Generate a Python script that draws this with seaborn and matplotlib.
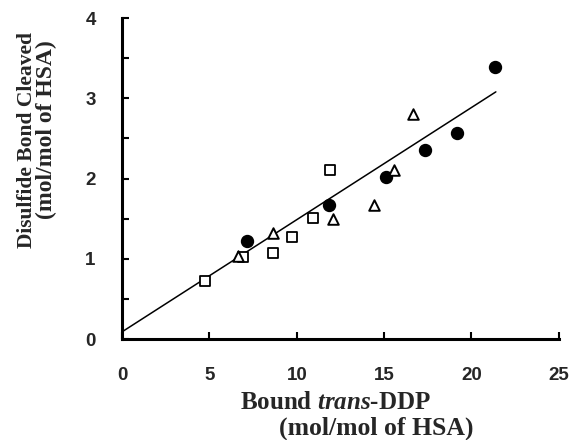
import matplotlib
matplotlib.use("Agg")
import matplotlib.pyplot as plt
import seaborn as sns
import pandas as pd
import numpy as np

# Data
circle_x = [7.14, 11.82, 15.11, 17.32, 19.18, 21.38]
circle_y = [1.22, 1.675, 2.02, 2.35, 2.57, 3.39]
square_x = [4.72, 6.95, 8.65, 9.72, 10.93, 11.92]
square_y = [0.72, 1.02, 1.07, 1.27, 1.51, 2.11]
triangle_x = [6.63, 8.63, 12.07, 14.40, 15.59, 16.64]
triangle_y = [1.04, 1.32, 1.50, 1.675, 2.11, 2.80]
fit_x = [0.0, 21.4]
fit_y = [0.09, 3.08]
x_ticks = [0, 5, 10, 15, 20, 25]
y_ticks = [0, 1, 2, 3, 4]
y_minor = [0.5, 1.5, 2.5, 3.5]

sns.set_theme(style="white")
plt.rcParams["mathtext.fontset"] = "custom"
plt.rcParams["mathtext.it"] = "Liberation Serif:italic:bold"
plt.rcParams["mathtext.rm"] = "Liberation Serif:bold"

df = pd.DataFrame({
    "x": circle_x + square_x + triangle_x,
    "y": circle_y + square_y + triangle_y,
    "series": ["circle"] * len(circle_x) + ["square"] * len(square_x) + ["triangle"] * len(triangle_x),
})

fig = plt.figure(figsize=(5.76, 4.4), dpi=100)
ax = fig.add_axes([0.212, 0.2295, 0.758, 0.7295])

sns.lineplot(x=fit_x, y=fit_y, ax=ax, color="black", linewidth=1.1)

styles = {
    "circle": dict(marker="o", facecolor="black", s=74, lw=1.0),
    "square": dict(marker="s", facecolor="white", s=56, lw=1.3),
    "triangle": dict(marker="^", facecolor="white", s=58, lw=1.4),
}
for name, st in styles.items():
    sub = df[df["series"] == name]
    sns.scatterplot(data=sub, x="x", y="y", ax=ax, marker=st["marker"],
                    facecolor=st["facecolor"], edgecolor="black", linewidth=st["lw"],
                    s=st["s"], zorder=3, legend=False)

ax.set_xlim(0, 25)
ax.set_ylim(0, 4)
ax.set_xticks(x_ticks)
ax.set_xticklabels([str(t) for t in x_ticks])
ax.set_yticks(y_ticks)
ax.set_yticklabels([str(t) for t in y_ticks])
ax.set_yticks(y_minor, minor=True)

for lab in ax.get_xticklabels() + ax.get_yticklabels():
    lab.set_family("Liberation Sans")
    lab.set_fontweight("bold")
    lab.set_fontsize(13.5)

ax.tick_params(axis="both", which="both", direction="in", length=5, width=1.5,
               color="black", bottom=True, left=True)
ax.tick_params(axis="x", pad=20)
ax.tick_params(axis="y", pad=19)

sns.despine(ax=ax)
for side in ["left", "bottom"]:
    ax.spines[side].set_linewidth(2.2)
    ax.spines[side].set_color("black")

ax.set_xlabel("")
ax.set_ylabel("")

fig.text(336 / 576, 1 - 402 / 440, "Bound $\\mathit{trans}$-DDP", ha="center", va="center",
         family="Liberation Serif", fontweight="bold", fontsize=18)
fig.text(376 / 576, 1 - 428 / 440, "(mol/mol of HSA)", ha="center", va="center",
         family="Liberation Serif", fontweight="bold", fontsize=18.5)
fig.text(27 / 576, 1 - 140 / 440, "Disulfide Bond Cleaved", ha="center", va="center",
         rotation=90, family="Liberation Serif", fontweight="bold", fontsize=15.5)
fig.text(46 / 576, 1 - 130 / 440, "(mol/mol of HSA)", ha="center", va="center",
         rotation=90, family="Liberation Serif", fontweight="bold", fontsize=17)

fig.savefig("out.png", dpi=100)
